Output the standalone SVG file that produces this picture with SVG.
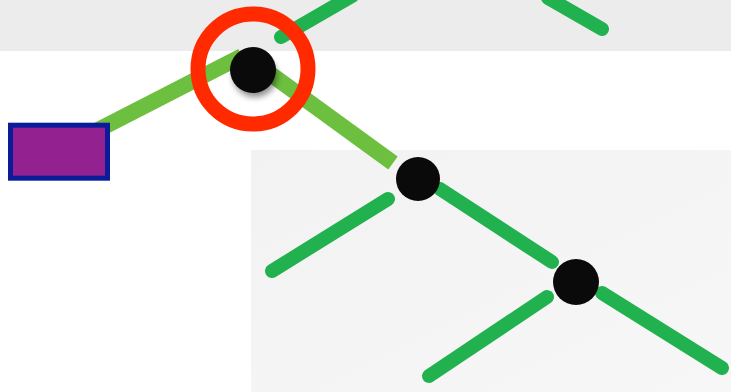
<svg xmlns="http://www.w3.org/2000/svg" width="731" height="392" viewBox="0 0 731 392">
  <defs>
    <style>
      .pen { stroke: #22b14f; stroke-width: 14; stroke-linecap: round; fill: none; }
      .link { stroke: #6dbf3f; stroke-width: 16; stroke-linecap: butt; fill: none; }
      .blob { fill: #0a0a0a; }
    </style>
    <filter id="shadow" x="-50%" y="-50%" width="200%" height="200%">
      <feGaussianBlur stdDeviation="3"/>
    </filter>
    <linearGradient id="paper" x1="0" y1="0" x2="1" y2="1">
      <stop offset="0" stop-color="#f2f2f2"/>
      <stop offset="1" stop-color="#f7f7f7"/>
    </linearGradient>
  </defs>
  <rect x="0" y="0" width="731" height="392" fill="#ffffff"/>
  <!-- photo strips -->
  <rect x="0" y="0" width="731" height="51" fill="#ececec"/>
  <rect x="251" y="150" width="480" height="242" fill="url(#paper)"/>

  <g id="connectors">
    <line class="pen" x1="281" y1="37" x2="352" y2="-4"/>
    <line class="pen" x1="548" y1="-2" x2="602" y2="29"/>
    <line class="link" x1="92" y1="133" x2="242" y2="56"/>
    <line class="link" x1="265" y1="70" x2="393" y2="163"/>
    <line class="pen" x1="272" y1="271" x2="388" y2="199"/>
    <line class="pen" x1="440" y1="189" x2="552" y2="262"/>
    <line class="pen" x1="547" y1="297" x2="429" y2="376"/>
    <line class="pen" x1="602" y1="293" x2="722" y2="368"/>
  </g>

  <g id="source">
    <rect x="10.5" y="125.2" width="97" height="53" fill="#93218f" stroke="#0b1c9a" stroke-width="5"/>
  </g>

  <g id="root">
    <ellipse cx="255" cy="76" rx="22" ry="21" fill="#000" opacity="0.45" filter="url(#shadow)"/>
    <circle class="blob" cx="253" cy="70" r="23"/>
    <circle cx="253" cy="69" r="55" fill="none" stroke="#ff2a00" stroke-width="15"/>
  </g>

  <g id="node2">
    <circle class="blob" cx="418" cy="179" r="22"/>
  </g>

  <g id="node3">
    <circle class="blob" cx="576" cy="282" r="23"/>
  </g>
</svg>
